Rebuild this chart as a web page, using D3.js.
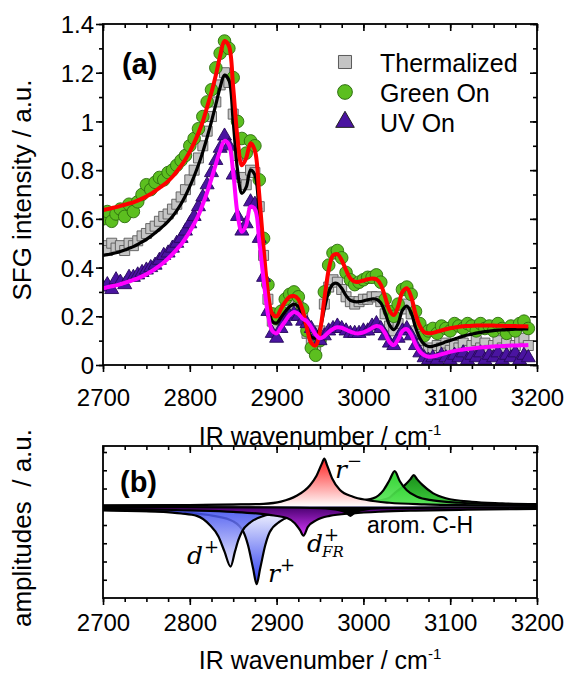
<!DOCTYPE html>
<html>
<head>
<meta charset="utf-8">
<script src="https://cdn.jsdelivr.net/npm/d3@7"></script>
<style>
  body { margin: 0; background: #fff; }
  svg { display: block; }
</style>
</head>
<body>
<div id="chart"></div>
<script>
// ── SFG spectra (a) and fitted resonance amplitudes (b) ──

// wavenumber grid of the measured spectra, cm-1
const wavenumbers = d3.range(2700, 3195, 5)

const thermalData = [
  .49, .47, .50, .48, .49, .47, .50, .49, .51, .53,
  .54, .56, .57, .59, .61, .62, .64, .66, .69, .72,
  .76, .80, .85, .90, .96, 1.02, 1.08, 1.15, 1.20, 1.16,
  1.03, .86, .77, .74, .80, .79, .65, .45, .27, .18,
  .16, .19, .23, .25, .26, .24, .20, .13, .09, .08,
  .14, .25, .32, .35, .34, .31, .28, .26, .25, .26,
  .27, .27, .28, .28, .26, .21, .16, .14, .17, .23,
  .25, .21, .14, .09, .06, .07, .06, .08, .07, .09,
  .06, .08, .07, .09, .06, .08, .10, .07, .09, .06,
  .08, .10, .07, .09, .06, .08, .10, .11, .08,
]
const greenData = [
  .60, .63, .59, .62, .64, .61, .66, .63, .67, .70,
  .74, .72, .75, .77, .76, .79, .80, .82, .84, .86,
  .90, .93, .97, 1.02, 1.08, 1.13, 1.22, 1.28, 1.33, 1.30,
  1.18, 1.00, .93, .87, .92, .90, .76, .52, .33, .21,
  .19, .22, .27, .29, .30, .28, .23, .14, .07, .04,
  .10, .30, .41, .46, .47, .44, .38, .35, .33, .34,
  .35, .36, .36, .37, .34, .27, .22, .20, .25, .31,
  .32, .29, .22, .17, .12, .14, .15, .13, .16, .15,
  .14, .17, .16, .15, .17, .16, .14, .17, .15, .16,
  .14, .17, .15, .13, .16, .14, .17, .18, .15,
]
const uvData = [
  .32, .33, .31, .35, .34, .33, .36, .36, .37, .38,
  .39, .40, .41, .43, .45, .46, .48, .50, .52, .55,
  .58, .61, .65, .69, .74, .79, .84, .89, .94, .90,
  .78, .61, .55, .58, .67, .66, .52, .36, .22, .13,
  .11, .15, .18, .20, .21, .20, .18, .17, .15, .12,
  .10, .12, .14, .15, .16, .15, .14, .13, .13, .13,
  .14, .14, .16, .17, .15, .12, .09, .08, .11, .14,
  .15, .12, .08, .05, .03, .02, .03, .02, .04, .03,
  .02, .04, .03, .05, .02, .04, .03, .05, .02, .04,
  .03, .05, .02, .04, .03, .05, .02, .04, .03,
]

const thermalFit = [
  .450, .453, .457, .461, .466, .472, .479, .486, .495, .505,
  .516, .528, .542, .557, .572, .590, .610, .634, .662, .695,
  .733, .775, .822, .875, .935, 1.00, 1.07, 1.14, 1.19, 1.17,
  1.00, .80, .705, .73, .80, .78, .62, .42, .26, .18,
  .172, .195, .22, .24, .25, .24, .20, .15, .115, .112,
  .15, .23, .30, .332, .335, .315, .285, .265, .26, .26,
  .263, .268, .271, .27, .255, .215, .165, .145, .17, .225,
  .242, .215, .155, .11, .085, .076, .077, .082, .088, .095,
  .101, .107, .113, .118, .123, .127, .131, .134, .137, .139,
  .141, .143, .144, .145, .146, .147, .147, .148, .148,
]
const greenFit = [
  .636, .640, .644, .648, .653, .658, .663, .668, .675, .683,
  .692, .702, .714, .727, .740, .755, .773, .795, .818, .845,
  .876, .912, .953, 1.00, 1.06, 1.12, 1.19, 1.27, 1.33, 1.31,
  1.14, .93, .82, .85, .91, .88, .70, .48, .30, .21,
  .20, .23, .26, .28, .283, .27, .225, .15, .09, .08,
  .14, .27, .39, .45, .455, .43, .39, .355, .342, .342,
  .347, .352, .355, .352, .33, .28, .225, .205, .24, .30,
  .315, .28, .21, .16, .135, .13, .132, .137, .142, .147,
  .151, .154, .157, .159, .16, .161, .162, .162, .162, .162,
  .162, .161, .161, .16, .16, .16, .159, .159, .158,
]
const uvFit = [
  .315, .319, .323, .327, .332, .337, .343, .349, .356, .364,
  .373, .383, .395, .407, .421, .437, .455, .475, .495, .52,
  .548, .58, .615, .66, .71, .765, .825, .88, .92, .905,
  .79, .62, .547, .575, .65, .64, .51, .35, .21, .14,
  .13, .155, .18, .205, .218, .21, .19, .18, .155, .125,
  .11, .118, .135, .148, .155, .153, .145, .137, .131, .13,
  .134, .142, .152, .16, .155, .13, .095, .082, .105, .14,
  .147, .125, .085, .055, .04, .034, .035, .039, .044, .049,
  .054, .058, .061, .064, .066, .068, .07, .072, .073, .075,
  .076, .077, .078, .079, .08, .08, .081, .081, .082,
]

const seriesNames = ['Thermalized', 'Green On', 'UV On']

// resonance amplitudes, [wavenumber, amplitude] (arb. units)
const ampGreen2 = [[2700, .05], [2900, .09], [2980, .16], [3010, .28], [3030, .5], [3036, .75], [3048, 1.2], [3054, 1.5], [3058, 1.73], [3062, 1.5], [3068, 1.2], [3080, .75], [3095, .47], [3125, .27], [3160, .19], [3200, .14]]
const ampGreen1 = [[2700, .06], [2900, .12], [2960, .2], [2990, .3], [3011, .46], [3023, .9], [3030, 1.45], [3036, 1.95], [3042, 1.4], [3050, .9], [3062, .55], [3080, .35], [3110, .22], [3150, .14], [3200, .1]]
const ampRMinus = [[2700, .06], [2800, .09], [2850, .12], [2885, .16], [2905, .28], [2923, .6], [2938, 1.15], [2946, 1.7], [2952, 2.35], [2955, 2.64], [2958, 2.3], [2964, 1.55], [2973, .92], [2988, .55], [3004, .37], [3030, .22], [3070, .13], [3130, .08], [3200, .05]]
const ampDFR = [[2700, -.12], [2800, -.2], [2850, -.28], [2880, -.38], [2897, -.48], [2912, -.62], [2921, -.9], [2927, -1.28], [2931, -1.58], [2936, -1.1], [2946, -.73], [2961, -.5], [2988, -.36], [3020, -.27], [3060, -.21], [3120, -.16], [3200, -.12]]
const ampRPlus = [[2700, -.2], [2760, -.26], [2800, -.34], [2827, -.5], [2850, -.8], [2862, -1.4], [2867, -2.1], [2873, -3.4], [2877, -4.24], [2881, -3.4], [2887, -2.1], [2892, -1.4], [2904, -.8], [2915, -.55], [2940, -.35], [2980, -.22], [3050, -.14], [3200, -.08]]
const ampDPlus = [[2700, -.16], [2740, -.21], [2766, -.27], [2790, -.37], [2808, -.5], [2823, -1.0], [2833, -1.63], [2840, -2.46], [2847, -3.28], [2852, -2.46], [2856, -1.82], [2860, -1.37], [2870, -.85], [2885, -.5], [2900, -.35], [2930, -.24], [2970, -.17], [3050, -.11], [3200, -.07]]
const ampSmall = [[2700, -.02], [2900, -.04], [2950, -.08], [2972, -.18], [2980, -.32], [2985, -.5], [2990, -.32], [2998, -.18], [3020, -.08], [3100, -.04], [3200, -.02]]

const xMajor = [2700, 2800, 2900, 3000, 3100, 3200]
const xMinor = d3.range(2700, 3201, 25)
const yMajorA = [0, 0.2, 0.4, 0.6, 0.8, 1.0, 1.2, 1.4]
const yMinorA = d3.range(0, 1.41, 0.1)
const yTicksB = [-4, -3, -2, -1, 0, 1, 2, 3]

// ── styling ──
const FONT = 'Arial, "Liberation Sans", sans-serif'
const MATH = '"DejaVu Serif", "Liberation Serif", serif'
const markerStyle = {
  Thermalized: { fill: '#c4c4c4', stroke: '#5a5a5a' },
  'Green On': { fill: '#5cbf1f', stroke: '#2d6e0e' },
  'UV On': { fill: '#4a14a0', stroke: '#26085a' },
}
const fitStyle = { Thermalized: ['#000', 3.2], 'Green On': ['#ff0000', 4], 'UV On': ['#ff00ff', 4] }
// drawing order of the resonance bands
const peakStyle = [
  { pts: ampGreen2, base: '#40cf40', tip: '#1a901a', op: 1 },
  { pts: ampGreen1, base: '#60e860', tip: '#22d022', op: 0.92 },
  { pts: ampRMinus, base: '#ffffff', tip: '#ff2020', op: 1 },
  { pts: ampRPlus, base: '#ffffff', tip: '#2a3cf0', op: 1 },
  { pts: ampDPlus, base: '#3344ee', tip: '#e4e4ff', op: 0.85 },
  { pts: ampDFR, base: '#48006e', tip: '#d838ff', op: 1 },
  { pts: ampSmall, base: '#000', tip: '#000', op: 1 },
]

const W = 567, H = 675
const svg = d3.select('#chart').append('svg')
  .attr('width', W).attr('height', H)
  .attr('font-family', FONT)
const defs = svg.append('defs')

function cleanAxis(g) {
  g.select('.domain').remove()
  g.selectAll('line').attr('stroke', '#000').attr('stroke-width', 1.6)
}

function frameAxes(x, top, bottom, xLabelY) {
  const [x0, x1] = x.range()
  svg.append('g').attr('transform', `translate(0,${bottom})`)
    .call(d3.axisBottom(x).tickValues(xMinor).tickSize(4).tickFormat(''))
    .call(cleanAxis)
  svg.append('g').attr('transform', `translate(0,${bottom})`)
    .call(d3.axisBottom(x).tickValues(xMajor).tickSize(7).tickFormat(d3.format('d')))
    .call(cleanAxis)
    .call(g => g.selectAll('text').attr('y', xLabelY).attr('dy', 0)
      .attr('font-size', 24).attr('font-family', FONT).attr('fill', '#000'))
  // mirror ticks on the top edge point inward
  svg.append('g').attr('transform', `translate(0,${top})`)
    .call(d3.axisTop(x).tickValues(xMinor).tickSize(-4).tickFormat(''))
    .call(cleanAxis)
  svg.append('g').attr('transform', `translate(0,${top})`)
    .call(d3.axisTop(x).tickValues(xMajor).tickSize(-7).tickFormat(''))
    .call(cleanAxis)
  svg.append('rect')
    .attr('x', x0).attr('y', top).attr('width', x1 - x0).attr('height', bottom - top)
    .attr('fill', 'none').attr('stroke', '#000').attr('stroke-width', 1.8)
}

// ── panel (a) ──
const xA = d3.scaleLinear().domain([2700, 3200]).range([103, 537])
const yA = d3.scaleLinear().domain([0, 1.4]).range([365, 24])

defs.append('clipPath').attr('id', 'clipA').append('rect')
  .attr('x', 103).attr('y', 24).attr('width', 434).attr('height', 341)

const plotA = svg.append('g').attr('clip-path', 'url(#clipA)')
const dataSets = [thermalData, greenData, uvData]
const fits = [thermalFit, greenFit, uvFit]

const markers = {
  Thermalized: d3.symbol(d3.symbolSquare, 100),
  'Green On': d3.symbol(d3.symbolCircle, 125),
  'UV On': d3.symbol(d3.symbolTriangle, 85),
}

seriesNames.forEach((name, k) => {
  plotA.append('g').selectAll('path')
    .data(dataSets[k])
    .join('path')
    .attr('transform', (d, i) => `translate(${xA(wavenumbers[i])},${yA(d)})`)
    .attr('d', markers[name])
    .attr('fill', markerStyle[name].fill)
    .attr('stroke', markerStyle[name].stroke)
    .attr('stroke-width', 0.9)
})

const fitLine = d3.line()
  .x((d, i) => xA(wavenumbers[i]))
  .y(d => yA(d))
  .curve(d3.curveCatmullRom.alpha(0.5))

seriesNames.forEach((name, k) => {
  plotA.append('path')
    .attr('d', fitLine(fits[k]))
    .attr('fill', 'none')
    .attr('stroke', fitStyle[name][0])
    .attr('stroke-width', fitStyle[name][1])
    .attr('stroke-linejoin', 'round')
})

frameAxes(xA, 24, 365, 41)

svg.append('g').attr('transform', 'translate(103,0)')
  .call(d3.axisLeft(yA).tickValues(yMinorA).tickSize(4).tickFormat(''))
  .call(cleanAxis)
svg.append('g').attr('transform', 'translate(103,0)')
  .call(d3.axisLeft(yA).tickValues(yMajorA).tickSize(7).tickPadding(2)
    .tickFormat(d => String(+d.toFixed(1))))
  .call(cleanAxis)
  .call(g => g.selectAll('text').attr('font-size', 24).attr('font-family', FONT)
    .attr('fill', '#000').attr('dy', '0.36em'))
svg.append('g').attr('transform', 'translate(537,0)')
  .call(d3.axisRight(yA).tickValues(yMinorA).tickSize(-4).tickFormat(''))
  .call(cleanAxis)
svg.append('g').attr('transform', 'translate(537,0)')
  .call(d3.axisRight(yA).tickValues(yMajorA).tickSize(-7).tickFormat(''))
  .call(cleanAxis)

svg.append('text')
  .attr('transform', 'translate(31,190) rotate(-90)')
  .attr('text-anchor', 'middle').attr('font-size', 26)
  .text('SFG intensity / a.u.')

const xTitle = (yPos) => {
  const t = svg.append('text')
    .attr('x', 320).attr('y', yPos)
    .attr('text-anchor', 'middle').attr('font-size', 25)
  t.append('tspan').text('IR wavenumber / cm')
  t.append('tspan').attr('font-size', 15).attr('dy', -10).text('-1')
}
xTitle(445)

svg.append('text').attr('x', 122).attr('y', 74)
  .attr('font-size', 29).attr('font-weight', 'bold').text('(a)')

// legend
const legendSymbols = {
  Thermalized: d3.symbol(d3.symbolSquare, 170),
  'Green On': d3.symbol(d3.symbolCircle, 170),
  'UV On': d3.symbol(d3.symbolTriangle, 150),
}
const legend = svg.append('g')
seriesNames.forEach((name, k) => {
  const yy = 62 + k * 30
  legend.append('path')
    .attr('transform', `translate(345,${yy})`)
    .attr('d', legendSymbols[name])
    .attr('fill', markerStyle[name].fill)
    .attr('stroke', name === 'UV On' ? '#222' : markerStyle[name].stroke)
    .attr('stroke-width', 1)
  legend.append('text')
    .attr('x', 380).attr('y', yy + 10)
    .attr('font-size', 25)
    .text(name)
})

// ── panel (b) ──
const xB = d3.scaleLinear().domain([2700, 3200]).range([103, 537])
const yB = d3.scaleLinear().domain([-5, 3.33]).range([598, 446])

defs.append('clipPath').attr('id', 'clipB').append('rect')
  .attr('x', 103).attr('y', 446).attr('width', 434).attr('height', 152)
const plotB = svg.append('g').attr('clip-path', 'url(#clipB)')

const area = d3.area()
  .x(d => xB(d[0])).y0(yB(0)).y1(d => yB(d[1]))
  .curve(d3.curveMonotoneX)
const outline = d3.line()
  .x(d => xB(d[0])).y(d => yB(d[1]))
  .curve(d3.curveMonotoneX)

peakStyle.forEach((p, i) => {
  const tip = d3.greatest(p.pts, d => Math.abs(d[1]))
  const gid = 'peak-grad-' + i
  const grad = defs.append('linearGradient')
    .attr('id', gid)
    .attr('gradientUnits', 'userSpaceOnUse')
    .attr('x1', 0).attr('x2', 0)
    .attr('y1', yB(0)).attr('y2', yB(tip[1]))
  grad.append('stop').attr('offset', '0%').attr('stop-color', p.base)
  grad.append('stop').attr('offset', '100%').attr('stop-color', p.tip)

  plotB.append('path')
    .attr('d', area(p.pts))
    .attr('fill', `url(#${gid})`)
    .attr('fill-opacity', p.op)
  plotB.append('path')
    .attr('d', outline(p.pts))
    .attr('fill', 'none')
    .attr('stroke', '#000')
    .attr('stroke-width', 2.2)
})

frameAxes(xB, 446, 598, 33)
svg.append('g').attr('transform', 'translate(103,0)')
  .call(d3.axisLeft(yB).tickValues(yTicksB).tickSize(-4).tickFormat(''))
  .call(cleanAxis)
svg.append('g').attr('transform', 'translate(537,0)')
  .call(d3.axisRight(yB).tickValues(yTicksB).tickSize(-4).tickFormat(''))
  .call(cleanAxis)

svg.append('text')
  .attr('transform', 'translate(31,528) rotate(-90)')
  .attr('text-anchor', 'middle').attr('font-size', 26)
  .style('white-space', 'pre')
  .text('amplitudes  / a.u.')
xTitle(669)

svg.append('text').attr('x', 120).attr('y', 492)
  .attr('font-size', 29).attr('font-weight', 'bold').text('(b)')

// peak labels, italic serif like the math font of the original
const mathLabel = (x, y, main, sup, sub) => {
  const g = svg.append('g').attr('font-family', MATH)
  g.append('text').attr('x', x).attr('y', y).attr('font-size', 25)
    .attr('font-style', 'italic').text(main)
  const w = main === 'd' ? 17 : 12
  g.append('text').attr('x', x + w).attr('y', y - 11).attr('font-size', 18).text(sup)
  if (sub) {
    g.append('text').attr('x', x + w - 2).attr('y', y + 5).attr('font-size', 15)
      .attr('font-style', 'italic').text(sub)
  }
}
mathLabel(187, 564, 'd', '+')
mathLabel(268, 582, 'r', '+')
mathLabel(307, 552, 'd', '+', 'FR')
mathLabel(335, 478, 'r', '\u2212')

svg.append('text').attr('x', 367).attr('y', 533)
  .attr('font-size', 23).text('arom. C-H')
</script>
</body>
</html>
